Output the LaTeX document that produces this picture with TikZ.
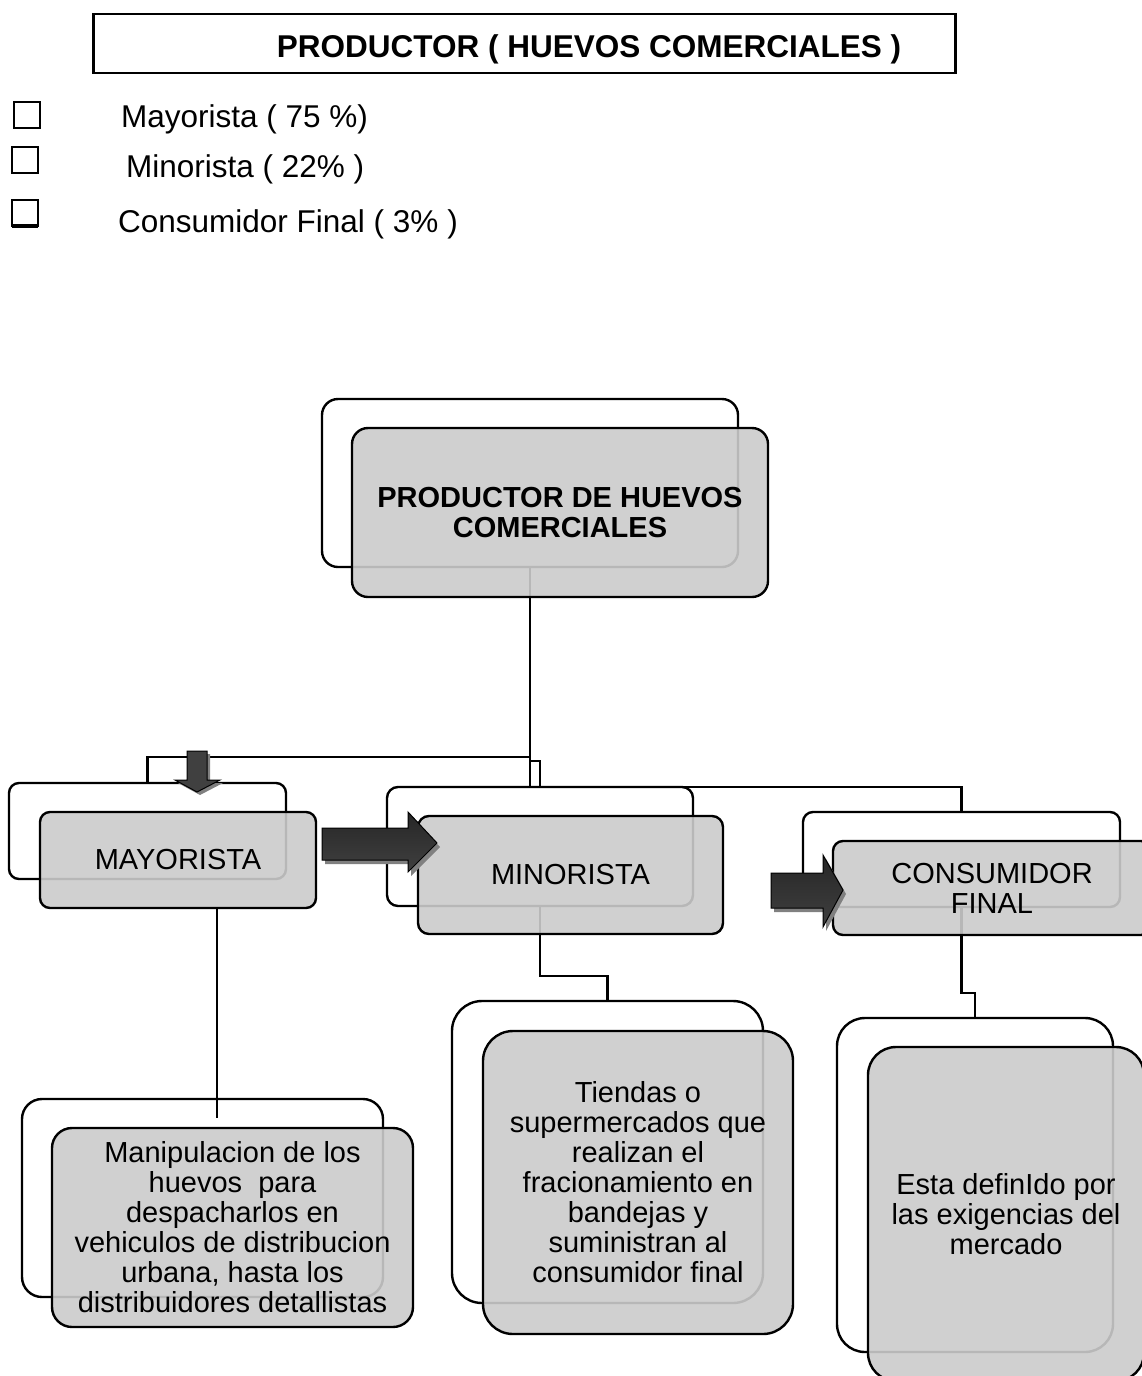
\documentclass[tikz,border=0pt]{standalone}
\usepackage{fontspec}
\setmainfont{Liberation Sans}
\definecolor{boxgray}{RGB}{203,203,203}
\newcommand\myTitleFont{\fontsize{31.5}{36}\selectfont\bfseries}
\newcommand\myListFont{\fontsize{31.5}{36}\selectfont}
\newcommand\myBoxFont{\fontsize{29}{30}\selectfont}
\newcommand\myBoldBoxFont{\fontsize{29}{30}\selectfont\bfseries}
\tikzset{
  backbox/.style={draw, line width=2.4pt, rectangle, rounded corners=#1, anchor=north west, inner sep=0pt, outer sep=0pt},
  frontbox/.style={draw, line width=2.4pt, rectangle, rounded corners=#1, anchor=north west, inner sep=0pt, outer sep=0pt,
                   fill=boxgray, fill opacity=0.9, text opacity=1, align=center, font=\myBoxFont},
  link/.style={line width=2.4pt},
  thinlink/.style={line width=1.8pt},
  chk/.style={draw, line width=2pt, minimum width=26pt, minimum height=26pt, inner sep=0pt, outer sep=0pt},
  listtext/.style={anchor=base west, inner sep=0pt, font=\myListFont},
  arrowshadow/.style={fill=black!50},
  hblockarrow/.style={draw=black, line width=1pt, top color=black!85, middle color=black, bottom color=black!75},
  vblockarrow/.style={draw=black, line width=1pt, left color=black!75, middle color=black, right color=black!75}
}
\begin{document}
\begin{tikzpicture}[x=1pt,y=-1pt]
\useasboundingbox (0,0) rectangle (1141,1376);
\fill[white] (0,0) rectangle (1141,1376);

% header
\node[draw, line width=2.5pt, anchor=north west, minimum width=862pt, minimum height=59pt, inner sep=0pt] (titlebox) at (92,12.5) {};
\node[anchor=base, inner sep=0pt, font=\myTitleFont] (titletext) at (589,57) {PRODUCTOR ( HUEVOS COMERCIALES )};

\node[chk] (k1) at (26.5,115) {};
\node[chk] (k2) at (24.5,160) {};
\node[chk] (k3) at (24.5,213) {};
\draw[line width=3.5pt] (k3.south west) -- (k3.south east);
\node[listtext] (l1) at (121,127) {Mayorista ( 75 \%)};
\node[listtext] (l2) at (126,177) {Minorista ( 22\% )};
\node[listtext] (l3) at (118,232) {Consumidor Final ( 3\% )};

% back boxes
\node[backbox=16pt, minimum width=416pt, minimum height=168pt] (pb) at (322,399) {};
\node[backbox=10pt, minimum width=277pt, minimum height=96pt] (mb) at (9,783) {};
\node[backbox=11pt, minimum width=306pt, minimum height=119pt] (nb) at (387,787) {};
\node[backbox=10pt, minimum width=317pt, minimum height=95pt] (cb) at (803,812) {};
\node[backbox=20pt, minimum width=361pt, minimum height=198pt] (b1b) at (22,1099) {};
\node[backbox=30pt, minimum width=311pt, minimum height=302pt] (b2b) at (452,1001) {};
\node[backbox=28pt, minimum width=276pt, minimum height=334pt] (b3b) at (837,1018) {};

% connectors
\draw[link] (pb.south) -- ++(0,190) -| (mb.north);
\draw[link] (pb.south) -- ++(0,194) -| (nb.north);
\draw[link] (pb.south) -- ++(0,220) -| (cb.north);
\draw[link] (nb.south) -- ++(0,70) -| (b2b.north);
\draw[link] (cb.south) -- ++(0,86) -| (b3b.north);

% front boxes
\node[frontbox=16pt, minimum width=416pt, minimum height=169pt, font=\myBoldBoxFont] (pf) at (352,428) {PRODUCTOR DE HUEVOS\\COMERCIALES};
\node[frontbox=10pt, minimum width=276pt, minimum height=96pt] (mf) at (40,812) {MAYORISTA};
\node[frontbox=11pt, minimum width=305pt, minimum height=118pt] (nf) at (418,816) {MINORISTA};
\node[frontbox=10pt, minimum width=318pt, minimum height=94pt] (cf) at (833,841) {CONSUMIDOR\\FINAL};
\node[frontbox=20pt, minimum width=361pt, minimum height=199pt] (b1f) at (52,1128) {Manipulacion de los\\huevos\ \ para\\despacharlos en\\vehiculos de distribucion\\urbana, hasta los\\distribuidores detallistas};
\node[frontbox=30pt, minimum width=310pt, minimum height=303pt] (b2f) at (483,1031) {Tiendas o\\supermercados que\\realizan el\\fracionamiento en\\bandejas y\\suministran al\\consumidor final};
\node[frontbox=28pt, minimum width=276pt, minimum height=334pt] (b3f) at (868,1047) {Esta definIdo por\\las exigencias del\\mercado};

\coordinate (mlink) at (217,1118);
\draw[thinlink] (mf.south -| mlink) -- (mlink);

% block arrows
\fill[arrowshadow, shift={(3,3)}] (187,751) -- (207,751) -- (207,780) -- (220,780) -- (197,792) -- (175,780) -- (187,780) -- cycle;
\path[vblockarrow] (187,751) -- (207,751) -- (207,780) -- (220,780) -- (197,792) -- (175,780) -- (187,780) -- cycle;

\fill[arrowshadow, shift={(3,4)}] (322,828) -- (408,828) -- (408,812) -- (437,843) -- (408,872) -- (408,860) -- (322,860) -- cycle;
\path[hblockarrow] (322,828) -- (408,828) -- (408,812) -- (437,843) -- (408,872) -- (408,860) -- (322,860) -- cycle;

\fill[arrowshadow, shift={(3,4)}] (771,873) -- (823,873) -- (823,855) -- (843,890) -- (823,927) -- (823,908) -- (771,908) -- cycle;
\path[hblockarrow] (771,873) -- (823,873) -- (823,855) -- (843,890) -- (823,927) -- (823,908) -- (771,908) -- cycle;
\end{tikzpicture}
\end{document}
